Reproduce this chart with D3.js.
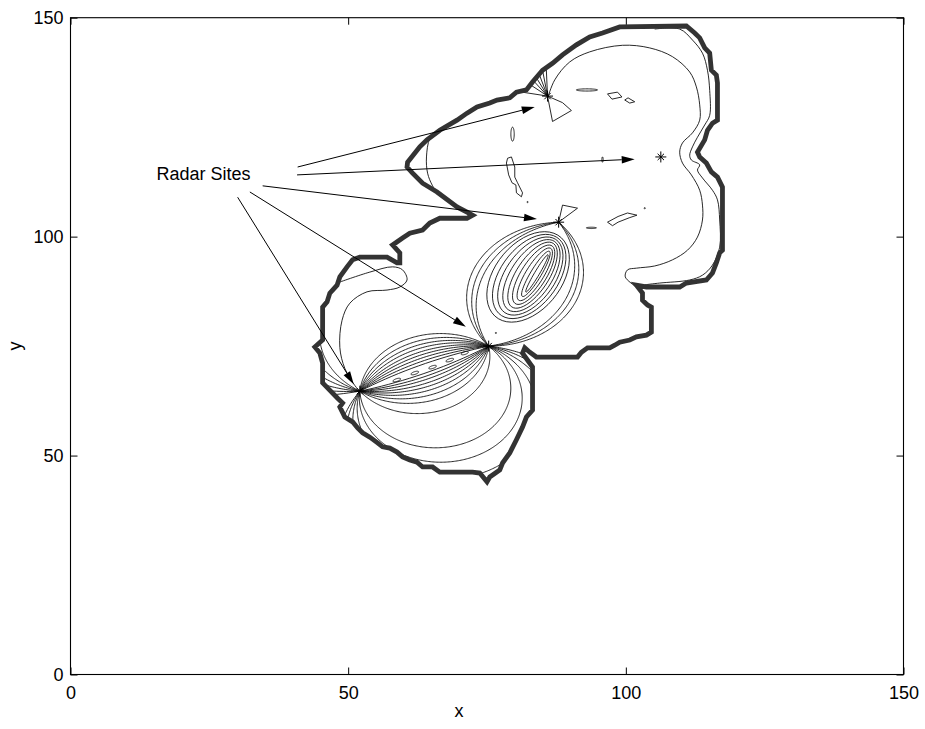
<!DOCTYPE html>
<html>
<head>
<meta charset="utf-8">
<script src="https://cdn.jsdelivr.net/npm/d3@7"></script>
<style>
  body { margin: 0; background: #fff; }
  text { font-family: "Liberation Sans", Arial, Helvetica, sans-serif; }
</style>
</head>
<body>
<div id="chart"></div>
<script>
// axis ticks
const xTicks = [0, 50, 100, 150];
const yTicks = [0, 50, 100, 150];

// radar sites (x, y)
const radarSites = [[52.1, 64.7], [75.3, 75.0], [87.9, 103.3], [85.9, 132.1], [106.3, 118.2]];

// coverage limit (thick outline)
const boundary = [
  [98.9,147.9],[110.9,148.1],[112.4,146.5],[113.3,145.4],[114.2,143.1],[115.1,141.9],[115.4,138.0],
  [116.3,136.9],[116.5,135.1],[116.5,126.6],[115.6,125.9],[114.7,124.3],[114.2,122.1],[112.9,119.3],
  [113.3,118.2],[114.5,116.8],[115.4,114.8],[116.5,113.6],[117.4,111.3],[117.4,96.9],[116.9,96.3],
  [116.3,94.0],[115.6,91.7],[114.5,90.1],[110.9,89.4],[109.7,88.5],[103.7,88.5],[101.9,88.9],
  [103.0,87.1],[103.0,85.5],[103.9,84.4],[104.6,83.9],[104.6,78.2],[103.7,77.5],[101.9,77.1],
  [100.7,76.4],[98.9,75.9],[98.0,75.2],[97.1,74.6],[93.1,74.6],[92.0,73.6],[91.3,72.5],[83.9,72.5],
  [82.7,73.6],[81.8,74.6],[81.4,73.4],[83.2,70.2],[83.2,60.4],[82.1,58.8],[81.4,56.5],[80.3,53.6],
  [79.1,50.6],[77.8,48.3],[77.3,46.7],[75.5,45.1],[75.0,44.0],[73.7,46.0],[72.4,46.2],[66.5,46.2],
  [65.2,47.4],[63.4,47.4],[62.4,48.5],[61.1,49.0],[59.8,49.7],[58.8,50.8],[57.5,51.7],[56.2,52.0],
  [55.3,52.9],[53.9,54.2],[52.6,55.2],[51.7,56.3],[50.8,57.7],[49.4,58.8],[48.5,61.1],[49.0,62.0],
  [48.1,63.1],[45.4,66.6],[45.4,71.1],[44.9,73.4],[44.0,74.8],[45.4,76.4],[45.4,83.9],[46.2,85.1],
  [46.7,87.1],[48.0,88.9],[48.5,90.8],[49.8,93.1],[50.8,94.7],[52.1,95.3],[57.0,95.3],[58.8,94.0],
  [59.3,94.0],[59.3,96.3],[58.0,98.1],[59.8,99.7],[61.1,100.8],[63.4,101.5],[64.7,103.1],[66.5,104.2],
  [71.4,104.2],[72.4,104.9],[71.4,105.6],[69.6,106.8],[66.0,110.2],[63.4,112.2],[61.6,114.5],
  [60.6,115.9],[60.7,117.0],[62.9,120.5],[64.2,122.1],[66.5,124.3],[69.6,126.6],[71.4,128.2],
  [73.2,129.6],[75.5,130.5],[76.8,131.2],[79.1,131.7],[80.3,133.0],[82.1,133.5],[83.2,135.3],
  [85.0,138.0],[86.8,139.6],[88.6,141.5],[91.1,143.8],[93.5,145.6],[95.8,146.5]
];

// arcs through a pair of sites: [sagitta, fromFraction, toFraction]
// site 1 -> site 2
const arcsA = [
  [1.0,0,1],[1.7,0,1],[2.4,0,1],[3.1,0,1],[3.8,0,1],[4.6,0,1],[5.4,0,1],[6.3,0,1],[7.4,0,1],
  [-1.0,0,1],[-1.7,0,1],[-2.4,0,1],[-3.2,0,1],[-4.0,0,1],[-4.9,0,1],[-6.0,0,1],[-7.3,0,1],
  [-10,0,1],[-18.5,0,1],[-22,0,1],[-26,0,1],[-31,0,1],[-37,0,1],[-44,0,1],
  [24,0,0.3],[29,0,0.3],[36,0,0.3],[48,0,0.3],[70,0,0.3],[120,0,0.3]
];
// site 2 -> site 3
const arcsB = [[9.6,0,1],[8.5,0,1],[7.5,0,1],[-10.2,0,1],[-9.2,0,1],[-8.3,0,1]];

// closed contours: [cx, cy, rx, ry, angle]
const loops = [
  [58.75,67.25,0.75,0.3,24],[62.0,68.85,0.75,0.3,24],[65.2,70.2,0.75,0.3,24],[68.3,71.8,0.75,0.3,24],[71.0,73.4,0.7,0.3,24],
  [82.4,90.8,11.0,6.4,65],[82.6,90.9,10.3,5.5,65],[82.8,91.0,9.6,4.7,65],[83.0,91.1,8.9,3.9,65],
  [83.2,91.2,8.2,3.1,65],[83.4,91.3,7.4,2.4,65],[83.6,91.4,6.6,1.7,65],[83.8,91.5,5.7,1.0,65],[84.0,91.6,4.7,0.45,65],
  [93.0,133.5,1.9,0.25,0],[79.6,123.4,0.3,1.6,0],[93.8,102.0,0.9,0.15,0],[95.8,117.6,0.12,0.6,0],
  [82.3,107.9,0.12,0.12,0],[103.4,106.5,0.12,0.12,0],[76.6,78.0,0.12,0.12,0]
];

// irregular closed contours
const blobQuad = [[96.7,132.6],[98.5,133.0],[99.3,131.9],[97.5,131.4]];
const blobDiamond = [[99.8,131.2],[100.4,131.7],[101.6,130.8],[100.7,130.5]];
const blobLong = [[78.7,117.9],[79.4,118.2],[80.0,115.9],[80.0,113.6],[80.5,112.3],[81.4,110.0],
  [81.2,109.1],[80.3,110.0],[80.2,111.8],[79.5,112.3],[78.9,114.1],[78.5,116.8]];
const blobSite3 = [[87.9,103.3],[88.6,107.2],[91.3,106.5]];
const blobSite4 = [[85.9,132.1],[86.8,126.3],[90.2,128.8],[88.6,130.6]];
const blobRight = [[96.7,103.3],[98.6,104.6],[100.3,105.4],[102.0,104.9],[100.6,104.3],[98.6,103.3],[97.6,102.5]];

// open contours
const innerLobe = [[85.9,131.6],[87.2,135.8],[89.9,139.9],[93.5,142.2],[99.4,143.7],[104.3,143.1],
  [108.4,141.1],[111.5,137.6],[112.7,134.2],[113.3,130.1],[113.3,126.6],[112.0,123.7],[110.2,121.4],
  [109.7,119.3],[110.2,116.8],[111.8,114.1],[113.3,110.6],[113.8,107.2],[113.8,103.8],[112.9,99.9],
  [111.1,96.9],[108.4,94.7],[105.2,93.3],[101.9,92.8],[100.3,92.4],[99.9,90.8],[101.8,88.6]];
const outerLobe = [[105.2,147.4],[109.7,147.4],[112.0,144.9],[113.8,141.9],[114.7,138.0],[115.1,133.4],
  [115.1,127.7],[114.2,125.5],[112.9,122.7],[112.0,120.5],[111.5,118.6],[111.8,117.5],[113.3,116.4],
  [112.9,115.2],[113.8,113.4],[115.6,110.6],[116.5,108.4],[116.9,103.8],[116.9,97.6],[115.6,93.5],
  [113.8,91.2],[111.5,90.1],[106.1,89.4],[103.4,89.0]];
const leftTip = [[66.2,125.2],[64.7,122.5],[64.1,118.2],[64.3,114.5],[65.2,111.6],[66.6,109.0]];
const curl = [[48.2,89.5],[53.9,91.9],[58.0,93.1],[59.8,92.4],[60.6,90.1],[59.3,88.5],[57.0,87.8],
  [53.4,87.4],[50.3,84.8],[48.9,80.9],[48.5,74.7],[49.4,69.9],[51.2,66.0],[52.1,64.7]];
const fan4 = [[82.0,137.5],[82.8,138.6],[83.7,139.4],[84.7,140.0],[85.6,140.5],[81.6,135.7],[79.8,133.3]];

// annotation
const labelPos = [15.5, 112.9];
const arrowStarts = [[40.9,115.9],[40.8,114.1],[34.6,111.6],[32.3,110.2],[30.1,109.0]];
const arrowTips = [[83.6,129.6],[101.6,117.7],[84.0,104.0],[71.2,79.4],[51.0,66.3]];

const W = 925, H = 729;
const x = d3.scaleLinear([0, 150], [70.5, 903.5]);
const y = d3.scaleLinear([0, 150], [674.5, 17.7]);

const svg = d3.select("#chart").append("svg")
  .attr("width", W).attr("height", H)
  .style("background", "#fff");

const line = d3.line().x(d => x(d[0])).y(d => y(d[1]));
const smooth = d3.line().x(d => x(d[0])).y(d => y(d[1])).curve(d3.curveCatmullRom);
const closed = d3.line().x(d => x(d[0])).y(d => y(d[1])).curve(d3.curveLinearClosed);

function arcPts(p, q, h, f0, f1) {
  const dx = q[0] - p[0], dy = q[1] - p[1], L = Math.hypot(dx, dy), c = L / 2;
  const nx = -dy / L, ny = dx / L;
  const mx = (p[0] + q[0]) / 2, my = (p[1] + q[1]) / 2;
  const d0 = (h * h - c * c) / (2 * h), R = Math.abs(h - d0);
  const cx = mx + d0 * nx, cy = my + d0 * ny;
  const a0 = Math.atan2(p[1] - cy, p[0] - cx);
  let delta = Math.atan2(q[1] - cy, q[0] - cx) - a0;
  if (h > 0) { while (delta > 0) delta -= 2 * Math.PI; }
  else { while (delta < 0) delta += 2 * Math.PI; }
  const n = Math.max(16, Math.ceil(Math.abs(delta * (f1 - f0)) * 60));
  return d3.range(n + 1).map(i => {
    const a = a0 + delta * (f0 + (f1 - f0) * i / n);
    return [cx + R * Math.cos(a), cy + R * Math.sin(a)];
  });
}

function ellPts(cx, cy, rx, ry, ang) {
  const t = ang * Math.PI / 180;
  return d3.range(48).map(i => {
    const a = i / 48 * 2 * Math.PI;
    const u = rx * Math.cos(a), v = ry * Math.sin(a);
    return [cx + u * Math.cos(t) - v * Math.sin(t), cy + u * Math.sin(t) + v * Math.cos(t)];
  });
}

svg.append("clipPath").attr("id", "region")
  .append("path").attr("d", closed(boundary));

const g = svg.append("g").attr("clip-path", "url(#region)")
  .attr("fill", "none").attr("stroke", "#111").attr("stroke-width", 0.9);

const [s1, s2, s3, s4] = radarSites;
g.selectAll(".arcA").data(arcsA).enter().append("path")
  .attr("d", d => line(arcPts(s1, s2, d[0], d[1], d[2])));
g.selectAll(".arcB").data(arcsB).enter().append("path")
  .attr("d", d => line(arcPts(s2, s3, d[0], d[1], d[2])));
g.selectAll(".loop").data(loops).enter().append("path")
  .attr("d", d => closed(ellPts(...d)));
g.selectAll(".blob").data([blobQuad, blobDiamond, blobLong, blobSite3, blobSite4, blobRight]).enter()
  .append("path").attr("d", d => closed(d));
g.selectAll(".open").data([innerLobe, outerLobe, leftTip, curl]).enter()
  .append("path").attr("d", d => smooth(d));
g.selectAll(".fan").data(fan4).enter().append("path")
  .attr("d", d => line([s4, d]));

// thick coverage outline
svg.append("path")
  .attr("d", closed(boundary))
  .attr("fill", "none")
  .attr("stroke", "#333")
  .attr("stroke-width", 4.8)
  .attr("stroke-linejoin", "miter");

// radar site markers
const star = svg.append("g").attr("stroke", "#000").attr("stroke-width", 1);
for (let s of radarSites) {
  for (let a of [0, 45, 90, 135]) {
    const r = a % 90 === 0 ? 5.5 : 4.5, t = a * Math.PI / 180;
    star.append("line")
      .attr("x1", x(s[0]) - r * Math.cos(t)).attr("y1", y(s[1]) - r * Math.sin(t))
      .attr("x2", x(s[0]) + r * Math.cos(t)).attr("y2", y(s[1]) + r * Math.sin(t));
  }
}

// axes
const fontSize = 18;
function styleAxis(sel) {
  sel.select(".domain").remove();
  sel.selectAll(".tick line").attr("stroke", "#000");
  sel.selectAll("text").attr("fill", "#000").style("font-size", fontSize + "px")
    .style("font-family", '"Liberation Sans", Arial, sans-serif');
}
svg.append("g").attr("transform", "translate(0,674.5)")
  .call(d3.axisBottom(x).tickValues(xTicks).tickSizeInner(-7).tickSizeOuter(0).tickPadding(12))
  .call(styleAxis);
svg.append("g").attr("transform", "translate(0,17.7)")
  .call(d3.axisTop(x).tickValues(xTicks).tickSizeInner(-7).tickSizeOuter(0).tickFormat(""))
  .call(styleAxis);
svg.append("g").attr("transform", "translate(70.5,0)")
  .call(d3.axisLeft(y).tickValues(yTicks).tickSizeInner(-7).tickSizeOuter(0).tickPadding(7))
  .call(styleAxis);
svg.append("g").attr("transform", "translate(903.5,0)")
  .call(d3.axisRight(y).tickValues(yTicks).tickSizeInner(-7).tickSizeOuter(0).tickFormat(""))
  .call(styleAxis);

svg.append("rect")
  .attr("x", 70.5).attr("y", 17.7)
  .attr("width", 833).attr("height", 656.8)
  .attr("fill", "none").attr("stroke", "#000").attr("stroke-width", 1.1);

svg.append("text")
  .attr("x", 459).attr("y", 717)
  .attr("text-anchor", "middle")
  .style("font-size", fontSize + "px")
  .text("x");

svg.append("text")
  .attr("transform", "translate(21,346) rotate(-90)")
  .attr("text-anchor", "middle")
  .style("font-size", fontSize + "px")
  .text("y");

// annotation arrows
svg.append("text")
  .attr("x", x(labelPos[0])).attr("y", y(labelPos[1]))
  .style("font-size", fontSize + "px")
  .text("Radar Sites");

const arrows = svg.append("g");
arrowStarts.forEach((st, i) => {
  const x0 = x(st[0]), y0 = y(st[1]);
  const x1 = x(arrowTips[i][0]), y1 = y(arrowTips[i][1]);
  const len = Math.hypot(x1 - x0, y1 - y0);
  const ux = (x1 - x0) / len, uy = (y1 - y0) / len;
  const bx = x1 - 13 * ux, by = y1 - 13 * uy;
  arrows.append("line")
    .attr("x1", x0).attr("y1", y0).attr("x2", bx).attr("y2", by)
    .attr("stroke", "#000").attr("stroke-width", 1);
  arrows.append("path")
    .attr("d", `M${x1},${y1}L${bx - 3.8 * uy},${by + 3.8 * ux}L${bx + 3.8 * uy},${by - 3.8 * ux}Z`)
    .attr("fill", "#000");
});
</script>
</body>
</html>
